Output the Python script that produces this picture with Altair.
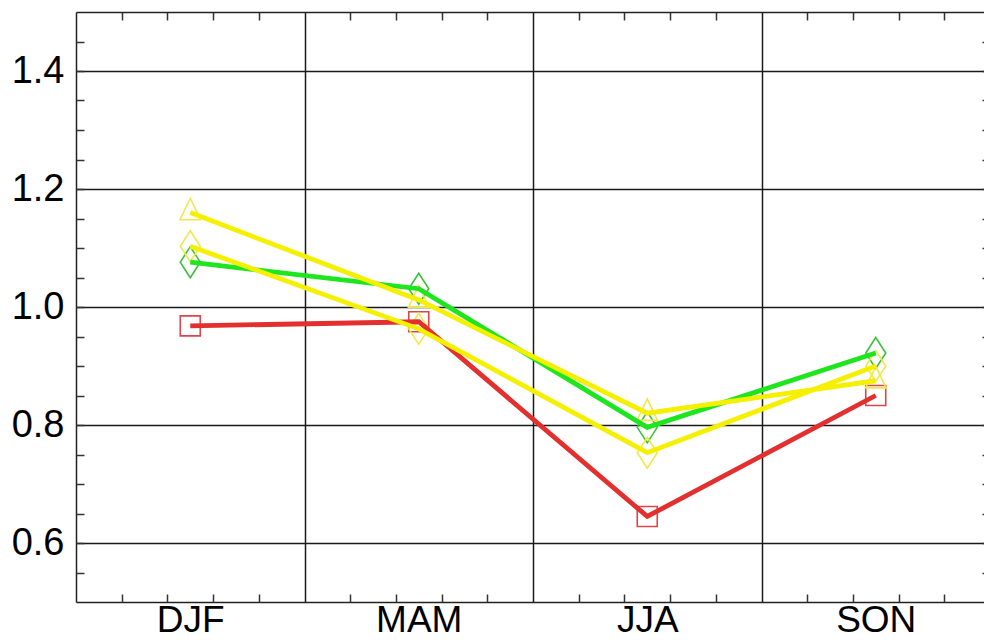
import json
import altair as alt
import pandas as pd

# ---------------- data ----------------
seasons = ["DJF", "MAM", "JJA", "SON"]
series_names = ["red", "green", "yellowA", "yellowB"]
red_vals = [0.968, 0.975, 0.645, 0.850]
green_vals = [1.076, 1.031, 0.796, 0.922]
yellow_a_vals = [1.160, 1.012, 0.820, 0.875]
yellow_b_vals = [1.103, 0.963, 0.753, 0.900]

y_label_values = [0.6, 0.8, 1.0, 1.2, 1.4]
y_minor_values = [0.55, 0.6, 0.65, 0.7, 0.75, 0.8, 0.85, 0.9, 0.95, 1.0,
                  1.05, 1.1, 1.15, 1.2, 1.25, 1.3, 1.35, 1.4, 1.45]
x_minor_values = [0.2, 0.4, 0.6, 0.8, 1.2, 1.4, 1.6, 1.8, 2.2, 2.4, 2.6, 2.8,
                  3.2, 3.4, 3.6, 3.8]
x_grid_values = [1, 2, 3]
x_label_values = [0.5, 1.5, 2.5, 3.5]

# ---------------- styling ----------------
FONT = "Liberation Sans"
W_RANGE = 914   # full plot width (right border falls just outside the window)
W = 908         # visible part of the plot
H = 590
line_colors = {"red": "#e3302f", "green": "#1ee61e", "yellowA": "#f5f000", "yellowB": "#f5f000"}
mark_colors = {"red": "#d9474a", "green": "#3cc03c", "yellowA": "#f0e84a", "yellowB": "#f0e84a"}
TRI = "M0,-1.4L1,0.7L-1,0.7Z"
DIA = "M0,-1.55L1,0L0,1.55L-1,0Z"
mark_shapes = {"red": "square", "green": DIA, "yellowA": TRI, "yellowB": DIA}
mark_sizes = {"red": 400, "green": 400, "yellowA": 420, "yellowB": 400}

vals = {"red": red_vals, "green": green_vals, "yellowA": yellow_a_vals, "yellowB": yellow_b_vals}
rows = []
for s in series_names:
    for i, season in enumerate(seasons):
        rows.append({"series": s, "season": season, "pos": i + 0.5, "value": vals[s][i]})
df = pd.DataFrame(rows)

xs = alt.Scale(domain=[0, 4], range=[0, W_RANGE], nice=False, zero=False)
ys = alt.Scale(domain=[0.5, 1.5], nice=False, zero=False)

label_expr = json.dumps(seasons) + "[floor(datum.value)]"
base = alt.Chart(df)

# axis layer 1: labels, y grid, left/bottom frame
ax1 = base.mark_point(opacity=0).encode(
    x=alt.X("pos:Q", scale=xs, axis=alt.Axis(
        orient="bottom", values=x_label_values, labelExpr=label_expr, ticks=False, tickSize=0,
        grid=False, domain=True, domainColor="#222222", domainWidth=1.5,
        labelFont=FONT, labelFontSize=37, labelColor="black", labelPadding=0,
        labelFlush=False, labelOverlap=False, title=None)),
    y=alt.Y("value:Q", scale=ys, axis=alt.Axis(
        orient="left", values=y_label_values, format=".1f", ticks=False, tickSize=0,
        grid=True, gridColor="#1a1a1a", gridWidth=1.5, domain=True, domainColor="#222222",
        domainWidth=1.5, labelFont=FONT, labelFontSize=38, labelColor="black",
        labelPadding=12, labelFlush=False, labelOverlap=False, title=None)),
)

tick_style = dict(ticks=True, tickSize=8, tickWidth=1.5, tickColor="#333333",
                  labels=False, grid=False, title=None)

# axis layer 2: inward minor ticks on bottom and left
ax2 = base.mark_point(opacity=0).encode(
    x=alt.X("pos:Q", scale=xs, axis=alt.Axis(orient="top", offset=-H, values=x_minor_values,
                                             domain=False, **tick_style)),
    y=alt.Y("value:Q", scale=ys, axis=alt.Axis(orient="right", offset=-W, values=y_minor_values,
                                               domain=False, **tick_style)),
)

# axis layer 3: inward minor ticks on top and right, top frame
ax3 = base.mark_point(opacity=0).encode(
    x=alt.X("pos:Q", scale=xs, axis=alt.Axis(orient="bottom", offset=-H, values=x_minor_values,
                                             domain=True, domainColor="#222222", domainWidth=1.5,
                                             **tick_style)),
    y=alt.Y("value:Q", scale=ys, axis=alt.Axis(orient="left", offset=-W_RANGE, values=y_minor_values,
                                               domain=False, **tick_style)),
)

# axis layer 4: vertical grid lines
ax4 = base.mark_point(opacity=0).encode(
    x=alt.X("pos:Q", scale=xs, axis=alt.Axis(orient="bottom", values=x_grid_values, ticks=False,
                                             labels=False, domain=False, grid=True,
                                             gridColor="#1a1a1a", gridWidth=1.5, title=None)),
    y=alt.Y("value:Q", scale=ys, axis=None),
)

point_layers = []
line_layers = []
for s in series_names:
    sub = alt.Chart(df[df["series"] == s])
    point_layers.append(
        sub.mark_point(shape=mark_shapes[s], size=mark_sizes[s], filled=False,
                       stroke=mark_colors[s], strokeWidth=1.6, opacity=1).encode(
            x=alt.X("pos:Q", scale=xs, axis=None),
            y=alt.Y("value:Q", scale=ys, axis=None),
        )
    )
    line_layers.append(
        sub.mark_line(color=line_colors[s], strokeWidth=4.8).encode(
            x=alt.X("pos:Q", scale=xs, axis=None),
            y=alt.Y("value:Q", scale=ys, axis=None),
        )
    )

chart = alt.layer(ax4, ax1, ax2, ax3, *point_layers, *line_layers).resolve_axis(
    x="independent", y="independent"
).properties(
    width=W, height=H,
    autosize=alt.AutoSizeParams(type="none"),
    padding={"left": 76, "top": 12, "right": 0, "bottom": 38},
    background="white",
).configure_view(stroke=None)

chart.save("out.html", embed_options={"renderer": "svg", "actions": False})
